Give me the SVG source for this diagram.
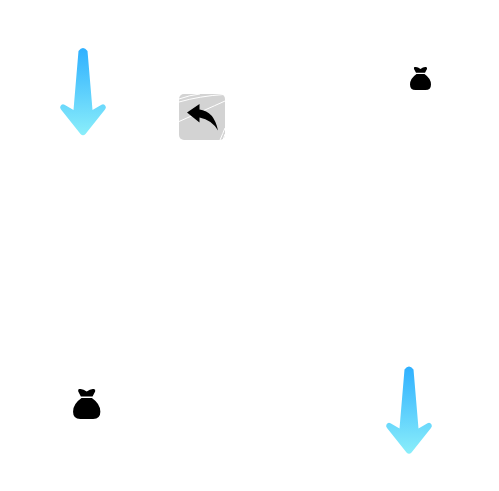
<svg xmlns="http://www.w3.org/2000/svg" width="499" height="491" viewBox="0 0 499 491">
<defs>
<linearGradient id="g" x1="0" y1="0" x2="0" y2="1"><stop offset="0" stop-color="#2fb0ff"/><stop offset="1" stop-color="#8aeefa"/></linearGradient>
<path id="arrow" d="M-4.5 4.500Q0-1.500 4.500 4.500L9.500 63.500 18.500 58.200Q21 57 22.500 59.500 23.500 61 22 63L2.500 87.500Q0 90-2.500 87.500L-22 63Q-23.500 61-22.500 59.500-21 57-18.500 58.200L-9.500 63.500Z" fill="url(#g)"/>
<path id="bag" d="M-5.500 0Q-3 -.5 0 2 3-.5 5.500 0 7 .3 6.500 2L4.500 5.800H-4.500L-6.500 2Q-7-.3-5.500 0ZM-4 7H4Q10.500 11.500 10.500 17.500 10.500 23 5 23H-5Q-10.500 23-10.500 17.500-10.500 11.500-4 7Z" fill="#000"/>
</defs>
<rect width="499" height="491" fill="#fff"/>
<g id="connectors"/>
<g id="arrow-1"><use href="#arrow" x="83" y="46.500"/></g>
<g id="arrow-2"><use href="#arrow" x="409" y="365"/></g>
<g id="icon-reply">
<rect x="179" y="94" width="46" height="46" rx="5" fill="#d3d3d3"/>
<g fill="none" stroke="#fff">
<path d="M179 102Q200 96 224 94.500" stroke-width="1"/>
<path d="M179 99Q190 95 200 94" stroke-width="1"/>
<path d="M179 121.500Q205 110 225 101" stroke-width="1"/>
<path d="M220 140Q223 133 225 128" stroke-width="1"/>
<path d="M223 140L225 134" stroke-width="1"/>
</g>
<path d="M187 112.500 199.500 104V109.500Q214 111 218 130.500 212 120 199.500 117.500V122.500Z" fill="#000"/>
</g>
<g id="bag-1"><use href="#bag" x="420.500" y="67"/></g>
<g id="bag-2"><use href="#bag" transform="translate(86.700 389) scale(1.300)"/></g>
</svg>
